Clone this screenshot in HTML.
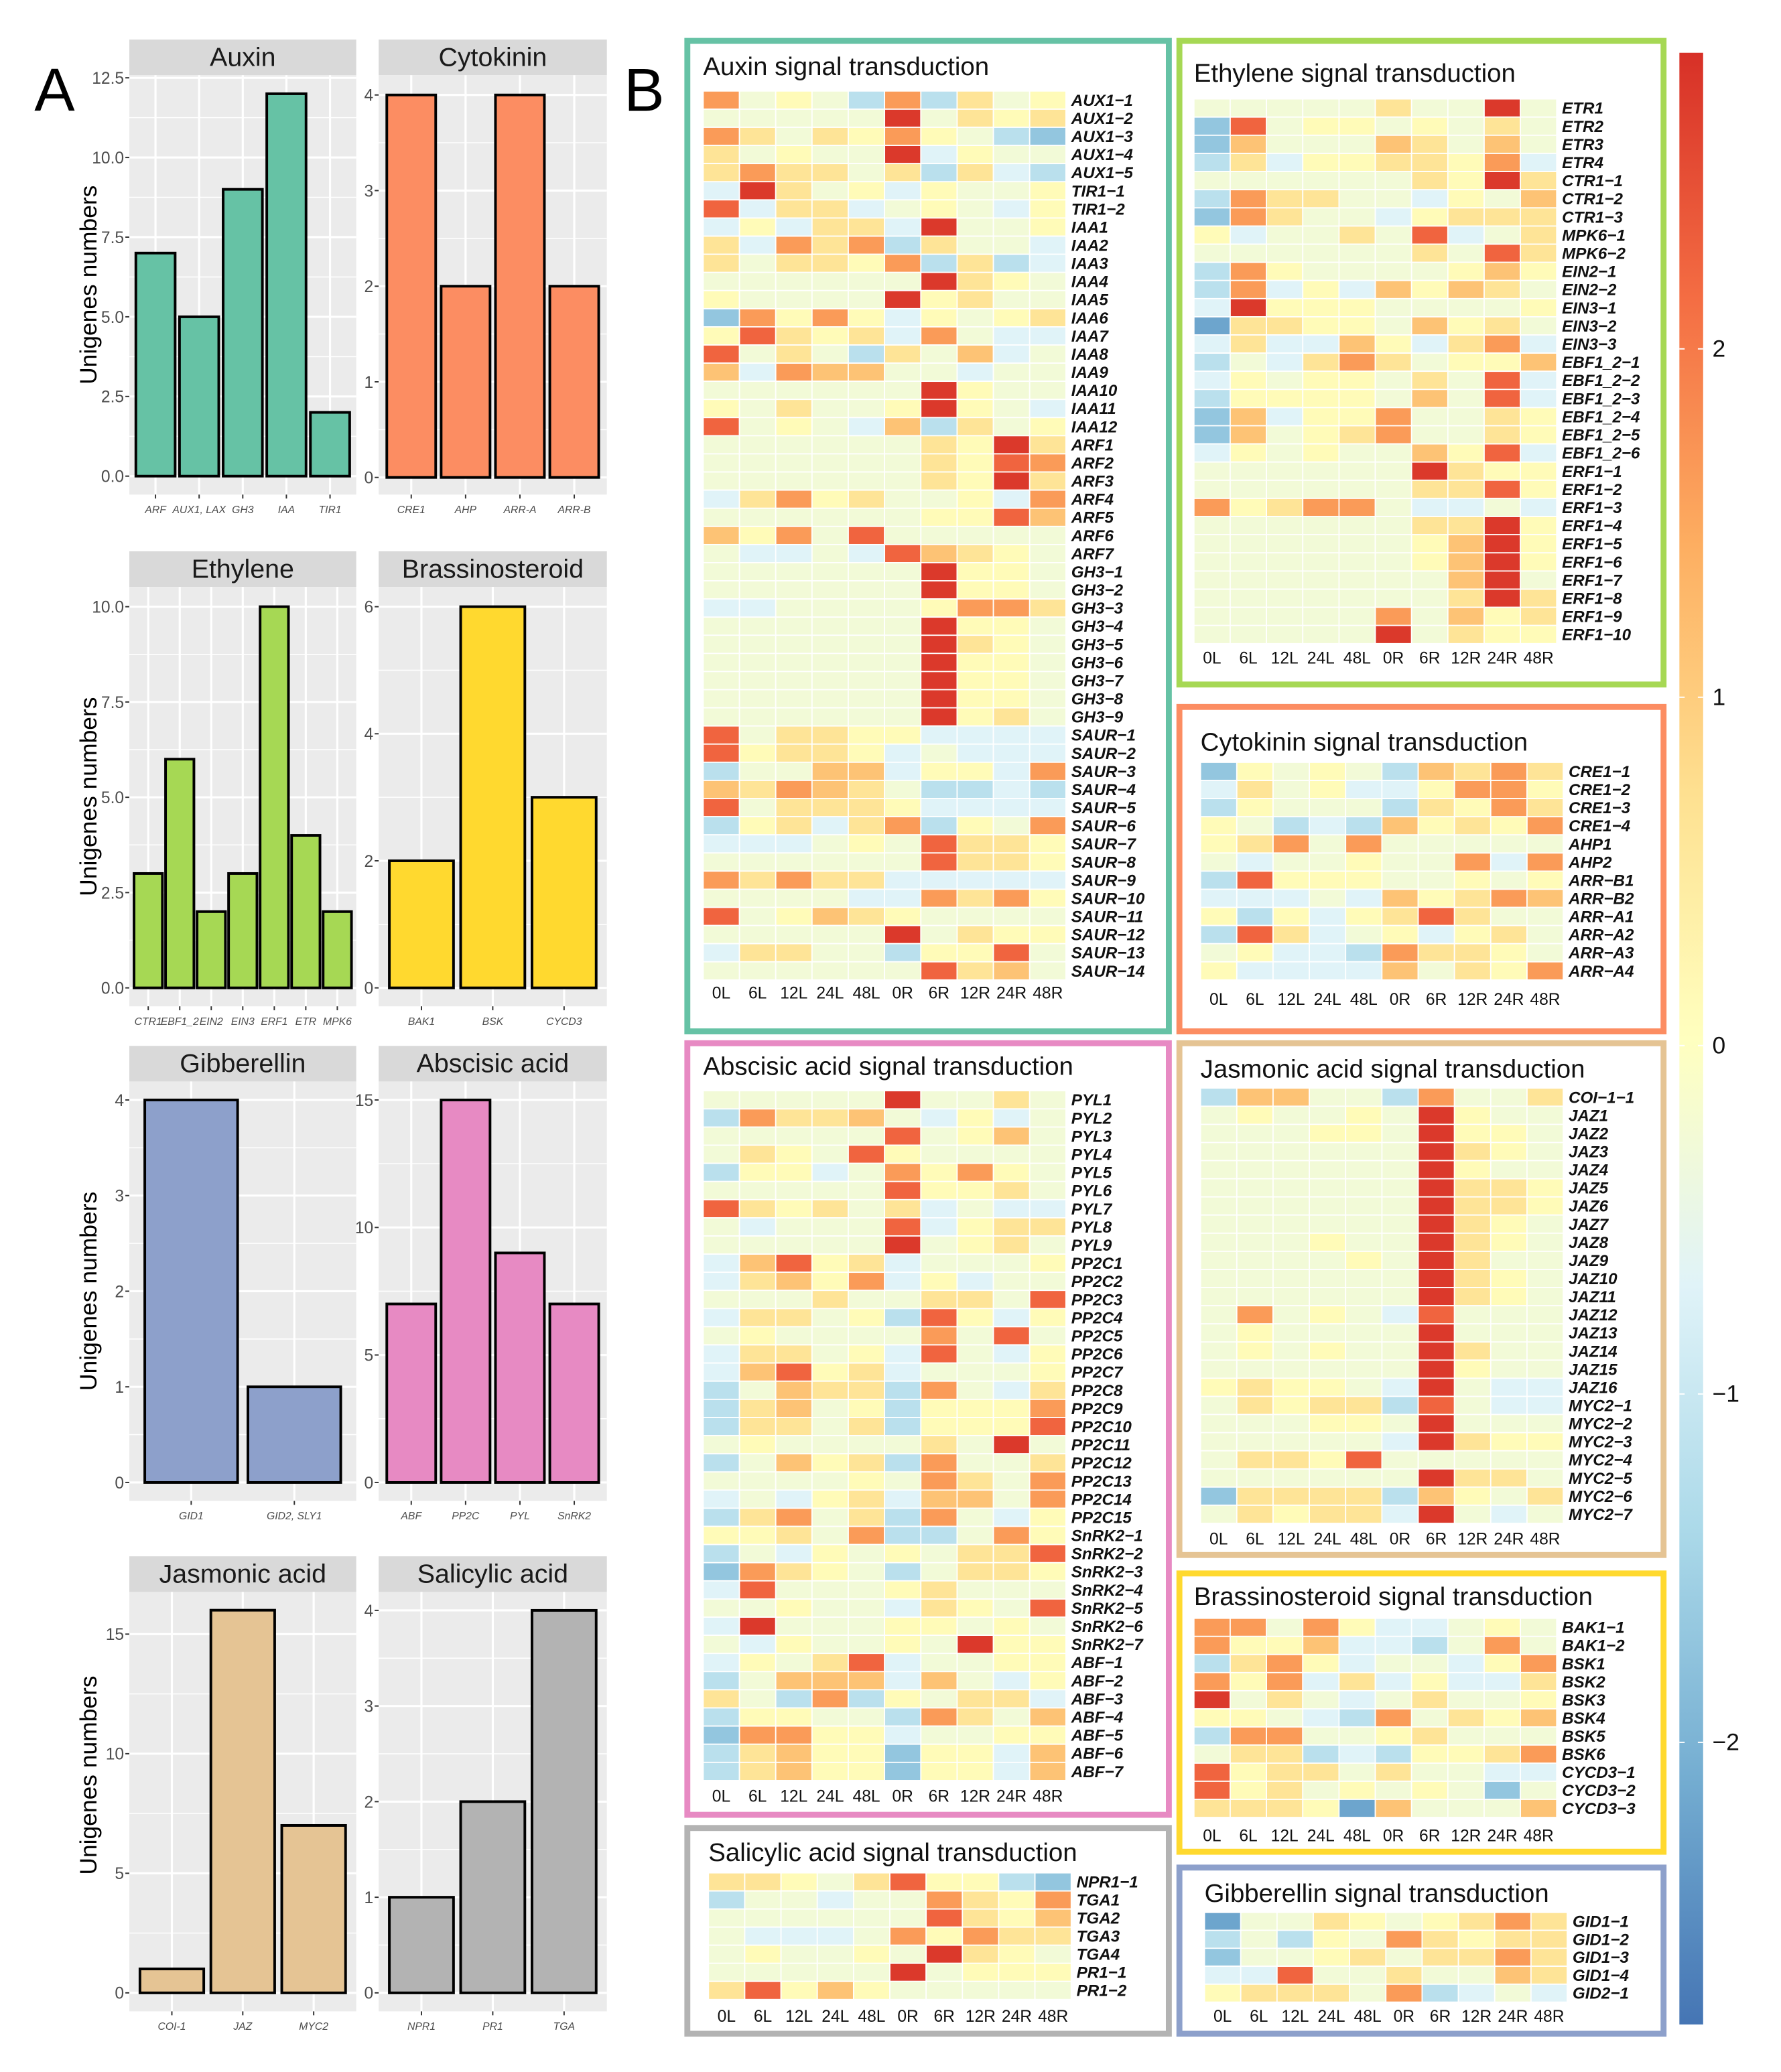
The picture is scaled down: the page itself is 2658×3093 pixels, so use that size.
<!DOCTYPE html>
<html><head><meta charset="utf-8">
<style>
html,body{margin:0;padding:0;background:#fff;}
svg{display:block;}
text{font-family:"Liberation Sans",sans-serif;}
</style></head>
<body>
<svg id="fig" xmlns="http://www.w3.org/2000/svg" width="2658" height="3093" viewBox="0 0 1350 1571">
<defs>
<linearGradient id="cbar" x1="0" y1="1" x2="0" y2="0">
<stop offset="0" stop-color="#4575b4"/>
<stop offset="0.125" stop-color="#74add1"/>
<stop offset="0.25" stop-color="#abd9e9"/>
<stop offset="0.375" stop-color="#e0f3f8"/>
<stop offset="0.5" stop-color="#ffffbf"/>
<stop offset="0.625" stop-color="#fee090"/>
<stop offset="0.75" stop-color="#fdae61"/>
<stop offset="0.875" stop-color="#f46d43"/>
<stop offset="1" stop-color="#d73027"/>
</linearGradient>
</defs>
</svg>
<script>
// ---------- Bar chart data ----------
const auxinCats=["ARF","AUX1, LAX","GH3","IAA","TIR1"];
const auxinCounts=[7,5,9,12,2];
const auxinTicks=[0,2.5,5,7.5,10,12.5];
const cytoCats=["CRE1","AHP","ARR-A","ARR-B"];
const cytoCounts=[4,2,4,2];
const cytoTicks=[0,1,2,3,4];
const ethCats=["CTR1","EBF1_2","EIN2","EIN3","ERF1","ETR","MPK6"];
const ethCounts=[3,6,2,3,10,4,2];
const ethTicks=[0,2.5,5,7.5,10];
const brCats=["BAK1","BSK","CYCD3"];
const brCounts=[2,6,3];
const brTicks=[0,2,4,6];
const gaCats=["GID1","GID2, SLY1"];
const gaCounts=[4,1];
const gaTicks=[0,1,2,3,4];
const abaCats=["ABF","PP2C","PYL","SnRK2"];
const abaCounts=[7,15,9,7];
const abaTicks=[0,5,10,15];
const jaCats=["COI-1","JAZ","MYC2"];
const jaCounts=[1,16,7];
const jaTicks=[0,5,10,15];
const saCats=["NPR1","PR1","TGA"];
const saCounts=[1,2,4];
const saTicks=[0,1,2,3,4];

// ---------- Heatmap data ----------
const timeCols=["0L","6L","12L","24L","48L","0R","6R","12R","24R","48R"];
const levelCodes={A:-2.6,B:-2.2,C:-1.7,D:-1.2,E:-0.7,F:-0.3,G:0.1,H:0.6,I:1.1,J:1.6,K:2.2,L:2.7};
const colorbarTicks=[2,1,0,-1,-2];

const auxinGenes=["AUX1−1","AUX1−2","AUX1−3","AUX1−4","AUX1−5","TIR1−1","TIR1−2","IAA1","IAA2","IAA3","IAA4","IAA5","IAA6","IAA7","IAA8","IAA9","IAA10","IAA11","IAA12","ARF1","ARF2","ARF3","ARF4","ARF5","ARF6","ARF7","GH3−1","GH3−2","GH3−3","GH3−4","GH3−5","GH3−6","GH3−7","GH3−8","GH3−9","SAUR−1","SAUR−2","SAUR−3","SAUR−4","SAUR−5","SAUR−6","SAUR−7","SAUR−8","SAUR−9","SAUR−10","SAUR−11","SAUR−12","SAUR−13","SAUR−14"];
const auxinRows=["JFGFDJDHFG","FFFFFLFHGH","JHFHGJGFDC","HFGFFLEGFF","HJHHFHDHED","ELHFGEGFFG","KEHHEFGFEG","EGEHHELFFG","HEJHJDHFFE","HFHHGJDHDE","FFFFFFLHGF","GFFFFLGHFF","CJGJGEGFGH","GKHGHEJFEE","KFHFDHFIEF","IEJIIFFEFF","FFFFFFLGFF","GFHFFGLGFE","KFGFEIDHFG","FFFFFFHGLH","FFFFFFHGKJ","FFFFFFHGLH","EHJGHFFGEJ","FFFFFFGGKI","IGJFKFFFFF","FEEFEKIHGF","FFFFFFLGGF","FFFFFFLGGF","EEFFFFGJJH","FFFFFFLGGF","FFFFFFLHGF","FFFFFFLGGF","FFFFFFLGGF","FFFFFFLGGF","FFFFFFLGHF","KFHHGGEEEE","KGHHGEFEEE","DFFIIEGGEJ","IHJIHFDDED","KFHHHGEEEE","DGHEHJDGFJ","EEEFGFKHHG","FFFFFFKHHG","JHJHHEEEEE","FFFFEEJHJG","KFGIHGFFFF","FFFFFLFHGG","EHHFFDGGKF","FFFFFFKHIF"];

const ethGenes=["ETR1","ETR2","ETR3","ETR4","CTR1−1","CTR1−2","CTR1−3","MPK6−1","MPK6−2","EIN2−1","EIN2−2","EIN3−1","EIN3−2","EIN3−3","EBF1_2−1","EBF1_2−2","EBF1_2−3","EBF1_2−4","EBF1_2−5","EBF1_2−6","ERF1−1","ERF1−2","ERF1−3","ERF1−4","ERF1−5","ERF1−6","ERF1−7","ERF1−8","ERF1−9","ERF1−10"];
const ethRows=["FFFFFHFFLF","CKFGGFGFHF","CIFFFIHFIF","DHEGGHHGJE","FFFFFFHGLH","DJHHFFEGFI","CJHFFEGHHH","GEFFHFKEFH","FFFFFFHFKH","DJGFFFFGIG","DJEGEIGIHF","ELGGGFFFFG","BHHGGFIGHF","EHEEIGEHJE","DFEHJHFGGI","EGFGGFHFKE","DGGGGFIFKE","CIEGGJFFHG","CIFGHJFFHG","EGFGFFIGKE","FFFFFFLHGG","FFFFFFHHKG","JGHJJFEEFE","FFFFFFHHLG","FFFFFFGILG","FFFFFFGILG","FFFFFFFILF","FFFFFFFHLH","FFFFFJFIGH","FFFFFLFHGG"];

const cytoGenes=["CRE1−1","CRE1−2","CRE1−3","CRE1−4","AHP1","AHP2","ARR−B1","ARR−B2","ARR−A1","ARR−A2","ARR−A3","ARR−A4"];
const cytoRows=["CGFGFDIHJH","EHFGEEGJJG","DGFFFDHGJH","GFDEDIGHGJ","GHJFJFFFFF","FEFFGFFJEJ","DKGGGFFGFG","EEEFEIGHJI","GDGEGHKHFF","DKHEFGEGHF","FGEEDJHHGF","GEEEEIFHGJ"];

const abaGenes=["PYL1","PYL2","PYL3","PYL4","PYL5","PYL6","PYL7","PYL8","PYL9","PP2C1","PP2C2","PP2C3","PP2C4","PP2C5","PP2C6","PP2C7","PP2C8","PP2C9","PP2C10","PP2C11","PP2C12","PP2C13","PP2C14","PP2C15","SnRK2−1","SnRK2−2","SnRK2−3","SnRK2−4","SnRK2−5","SnRK2−6","SnRK2−7","ABF−1","ABF−2","ABF−3","ABF−4","ABF−5","ABF−6","ABF−7"];
const abaRows=["FFFFFLFFHF","DJHHIFEGEF","FFFFFKFGIF","FHGFKGFFFF","DGGEFJGJGF","FFFFFKGGHF","KHGHFHEFEE","FEFFFKEGHH","FFFFFLFGHF","EIKGHEFFFG","EHIGJEGEFF","FFFHFFHHFK","EHHFGDKGEG","FGFFFFJFKF","EHHFGEKFEG","EIKGHEFFFG","DFIHHDJFEH","DHIFGDGGGJ","DHHFHDGGGK","FGFFFFHFLF","DFIGHDJFFH","FFFFGFJHFJ","EFEGHEIIFJ","DHJFHDJFEG","GGHFJDDFJG","DFEGFGFHHK","CJHGFDFHHG","EKFFFGHFFF","FFGFFEHGFK","ELFFFGGFGF","FEGFFGFLGG","EGFHKEFFGG","DFIIIEIFEG","HFDJDGFHHE","DGGFFDJHFI","CJJGGEFFGG","DHIGGCGGEI","DHIGGCGGEI"];

const jaGenes=["COI−1−1","JAZ1","JAZ2","JAZ3","JAZ4","JAZ5","JAZ6","JAZ7","JAZ8","JAZ9","JAZ10","JAZ11","JAZ12","JAZ13","JAZ14","JAZ15","JAZ16","MYC2−1","MYC2−2","MYC2−3","MYC2−4","MYC2−5","MYC2−6","MYC2−7"];
const jaRows=["DIIFFDJFFH","FGFFGFLGFF","FFFGGFLGGF","FFFFFFLHGF","FFFFFFLGFF","FFFFFFLHHG","FFFFFFLHHG","FFFFFFLHGF","FFFGFFLHGF","FFFFGFLHFF","FFFFFFLHGF","FFFFFFLHGF","FJFGFEKFFF","FGFFFFLFFF","FGFGFFLHFF","FFFFFFLGFF","GHGGFELFEE","FHGHHDKFEE","FFFGGFLFFF","FFFFFELHGG","FHHGKFFFFF","FFFFFFLHHF","CHHHHDIGFH","FHGHHELFEF"];

const brGenes=["BAK1−1","BAK1−2","BSK1","BSK2","BSK3","BSK4","BSK5","BSK6","CYCD3−1","CYCD3−2","CYCD3−3"];
const brRows=["JJFJGEEFGF","JGGIEEDFJF","DHJGEFFEGJ","JGJEHEGEEH","LFHFEFHFFG","GGFEDJFHGI","DJJFFGHFFF","FHHDEDGGHJ","KGHHFHFFEE","KGHFGFGFCF","HHHGBIFFFI"];

const saGenes=["NPR1−1","TGA1","TGA2","TGA3","TGA4","PR1−1","PR1−2"];
const saRows=["HHGFHKGGDC","DFFEFFJHGJ","FFFFFFKHGI","FEEEFJGJHH","FGFFGFLHGF","FFFFFLFGGG","HKGIGFFFFF"];

const gaGenes=["GID1−1","GID1−2","GID1−3","GID1−4","GID2−1"];
const gaRows=["BFFHGFGHJH","DFDGFJHGHH","CFFGHFHHJH","EEKFFHFFIH","GHHHFJDEFE"];

// ---------- helpers ----------
const NS="http://www.w3.org/2000/svg";
const svg=document.getElementById('fig');
function mk(tag,attrs,parent){const e=document.createElementNS(NS,tag);for(const k in attrs)e.setAttribute(k,attrs[k]);(parent||svg).appendChild(e);return e;}
function txt(s,attrs,parent){const e=mk('text',attrs,parent);e.textContent=s;return e;}

const stops=[[-2.8,[69,117,180]],[-2.1,[116,173,209]],[-1.4,[171,217,233]],[-0.7,[224,243,248]],[0,[255,255,191]],[0.7,[254,224,144]],[1.4,[253,174,97]],[2.1,[244,109,67]],[2.8,[215,48,39]]];
function colorOf(v){
  if(v<=stops[0][0])return 'rgb('+stops[0][1].join(',')+')';
  for(let i=1;i<stops.length;i++){
    if(v<=stops[i][0]){const a=stops[i-1],b=stops[i];const t=(v-a[0])/(b[0]-a[0]);
      const c=a[1].map((x,j)=>Math.round(x+(b[1][j]-x)*t));return 'rgb('+c.join(',')+')';}
  }
  return 'rgb('+stops[stops.length-1][1].join(',')+')';
}

// ---------- Panel labels ----------
const la=txt('A',{x:26,y:84,'font-size':46,fill:'#000'});


const lb=txt('B',{x:473,y:84,'font-size':46,fill:'#000'});



// ---------- Bar charts ----------
function barChart(o){
  const g=mk('g',{});
  
  
  const W=o.x1-o.x0;
  // strip
  const st=mk('rect',{x:o.x0,y:o.sy,width:W,height:27,fill:'#d9d9d9'},g);
  
  
  const stt=txt(o.title,{x:(o.x0+o.x1)/2,y:o.sy+20,'font-size':20,'text-anchor':'middle',fill:'#1a1a1a'},g);
  
  
  const py0=o.sy+27,py1=py0+318;
  const bg=mk('rect',{x:o.x0,y:py0,width:W,height:py1-py0,fill:'#ebebeb'},g);
  
  
  const tmax=o.ticks[o.ticks.length-1];
  const ys=v=>o.zeroY-(v)*(o.zeroY-o.topY)/tmax;
  const n=o.cats.length;
  const xs=p=>o.x0+(p-0.4)/(n+0.2)*W;
  // minor grid
  const step=o.ticks[1]-o.ticks[0];
  for(let v=-step/2;v<=tmax+step;v+=step){
    const y=ys(v); if(y<py0||y>py1)continue;
    const l=mk('line',{x1:o.x0,x2:o.x1,y1:y,y2:y,stroke:'#fff','stroke-width':0.8},g);
    
    
  }
  o.ticks.forEach(v=>{
    const y=ys(v);
    const l=mk('line',{x1:o.x0,x2:o.x1,y1:y,y2:y,stroke:'#fff','stroke-width':1.6},g);
    
    
    const tk=mk('line',{x1:o.x0-3,x2:o.x0,y1:y,y2:y,stroke:'#333','stroke-width':1},g);
    
    
    const tl=txt(String(v%1===0&&o.decimal?v.toFixed(1):v),{x:o.x0-4,y:y+4.5,'font-size':12.5,'text-anchor':'end',fill:'#4d4d4d'},g);
    
    
  });
  o.cats.forEach((c,i)=>{
    const cx=xs(i+1);
    const l=mk('line',{x1:cx,x2:cx,y1:py0,y2:py1,stroke:'#fff','stroke-width':1.6},g);
    
    
  });
  o.cats.forEach((c,i)=>{
    const cx=xs(i+1),hw=0.45*W/(n+0.2);
    const v=o.vals[i];
    const b=mk('rect',{x:cx-hw,y:ys(v),width:2*hw,height:o.zeroY-ys(v),fill:o.color,stroke:'#000','stroke-width':2},g);
    
    
    const tk=mk('line',{x1:cx,x2:cx,y1:py1,y2:py1+3,stroke:'#333','stroke-width':1},g);
    
    
    const xl=txt(c,{x:cx,y:py1+14,'font-size':8,'font-style':'italic','text-anchor':'middle',fill:'#4d4d4d'},g);
    
    
  });
}
function yTitle(cy,name){
  const t=txt('Unigenes numbers',{x:0,y:0,'font-size':18,'text-anchor':'middle',fill:'#000',transform:'translate(73,'+cy+') rotate(-90)'});
  
  
}
const L=[98,270],R=[287,460];
barChart({id:'auxin',title:'Auxin',x0:L[0],x1:L[1],sy:30,zeroY:361,topY:59,cats:auxinCats,vals:auxinCounts,ticks:auxinTicks,color:'#66c2a5',decimal:true});
barChart({id:'cytokinin',title:'Cytokinin',x0:R[0],x1:R[1],sy:30,zeroY:362,topY:72,cats:cytoCats,vals:cytoCounts,ticks:cytoTicks,color:'#fc8d62'});
barChart({id:'ethylene',title:'Ethylene',x0:L[0],x1:L[1],sy:418,zeroY:749,topY:460,cats:ethCats,vals:ethCounts,ticks:ethTicks,color:'#a6d854',decimal:true});
barChart({id:'brassinosteroid',title:'Brassinosteroid',x0:R[0],x1:R[1],sy:418,zeroY:749,topY:460,cats:brCats,vals:brCounts,ticks:brTicks,color:'#ffd92f'});
barChart({id:'gibberellin',title:'Gibberellin',x0:L[0],x1:L[1],sy:793,zeroY:1124,topY:834,cats:gaCats,vals:gaCounts,ticks:gaTicks,color:'#8da0cb'});
barChart({id:'abscisic',title:'Abscisic acid',x0:R[0],x1:R[1],sy:793,zeroY:1124,topY:834,cats:abaCats,vals:abaCounts,ticks:abaTicks,color:'#e78ac3'});
barChart({id:'jasmonic',title:'Jasmonic acid',x0:L[0],x1:L[1],sy:1180,zeroY:1511,topY:1239,cats:jaCats,vals:jaCounts,ticks:jaTicks,color:'#e5c494'});
barChart({id:'salicylic',title:'Salicylic acid',x0:R[0],x1:R[1],sy:1180,zeroY:1511,topY:1221,cats:saCats,vals:saCounts,ticks:saTicks,color:'#b3b3b3'});
yTitle(216,'y-axis-title-row1');
yTitle(604,'y-axis-title-row2');
yTitle(979,'y-axis-title-row3');
yTitle(1346,'y-axis-title-row4');

// ---------- Heatmaps ----------
function heatmap(o){
  const g=mk('g',{});
  
  
  const bx=mk('rect',{x:o.box[0]+2,y:o.box[1]+2,width:o.box[2]-o.box[0]-4,height:o.box[3]-o.box[1]-4,fill:'#fff',stroke:o.color,'stroke-width':4.5},g);
  
  
  const t=txt(o.title,{x:o.tx,y:o.ty,'font-size':19.5,fill:'#111'},g);
  
  
  const nr=o.rows.length,cw=(o.cx1-o.cx0)/10,rh=(o.cy1-o.cy0)/nr;
  o.rows.forEach((row,r)=>{
    for(let c=0;c<10;c++){
      const v=levelCodes[row[c]];
      const cell=mk('rect',{x:o.cx0+c*cw,y:o.cy0+r*rh,width:cw,height:rh,fill:colorOf(v),stroke:'#fff','stroke-width':0.9},g);
      
      
    }
    const gl=txt(o.genes[r],{x:o.cx1+4,y:o.cy0+(r+0.5)*rh+4.3,'font-size':12.3,'font-weight':'bold','font-style':'italic',fill:'#111'},g);
    
    
  });
  timeCols.forEach((c,i)=>{
    const cl=txt(c,{x:o.cx0+(i+0.5)*cw,y:o.coly,'font-size':12.5,'text-anchor':'middle',fill:'#111'},g);
    
    
  });
}
heatmap({id:'auxin',title:'Auxin signal transduction',color:'#66c2a5',box:[519,29,888,784],tx:533,ty:57,cx0:533,cx1:808,cy0:69,cy1:743,coly:757,genes:auxinGenes,rows:auxinRows});
heatmap({id:'ethylene',title:'Ethylene signal transduction',color:'#a6d854',box:[892,29,1263,521],tx:905,ty:62,cx0:905,cx1:1180,cy0:75,cy1:488,coly:503,genes:ethGenes,rows:ethRows});
heatmap({id:'cytokinin',title:'Cytokinin signal transduction',color:'#fc8d62',box:[892,534,1263,784],tx:910,ty:569,cx0:910,cx1:1185,cy0:578,cy1:743,coly:762,genes:cytoGenes,rows:cytoRows});
heatmap({id:'abscisic',title:'Abscisic acid signal transduction',color:'#e78ac3',box:[519,789,888,1378],tx:533,ty:815,cx0:533,cx1:808,cy0:827,cy1:1350,coly:1366,genes:abaGenes,rows:abaRows});
heatmap({id:'jasmonic',title:'Jasmonic acid signal transduction',color:'#e5c494',box:[892,789,1263,1181],tx:910,ty:817,cx0:910,cx1:1185,cy0:825,cy1:1155,coly:1171,genes:jaGenes,rows:jaRows});
heatmap({id:'brassinosteroid',title:'Brassinosteroid signal transduction',color:'#ffd92f',box:[892,1191,1263,1406],tx:905,ty:1217,cx0:905,cx1:1180,cy0:1227,cy1:1378,coly:1396,genes:brGenes,rows:brRows});
heatmap({id:'salicylic',title:'Salicylic acid signal transduction',color:'#b3b3b3',box:[519,1384,888,1544],tx:537,ty:1411,cx0:537,cx1:812,cy0:1420,cy1:1516,coly:1533,genes:saGenes,rows:saRows});
heatmap({id:'gibberellin',title:'Gibberellin signal transduction',color:'#8da0cb',box:[892,1414,1263,1544],tx:913,ty:1442,cx0:913,cx1:1188,cy0:1450,cy1:1518,coly:1533,genes:gaGenes,rows:gaRows});

// ---------- Colour bar ----------
const cbTop=40,cbBot=1535,cbMax=2.85,cbMin=-2.81;
const cy=v=>cbTop+(cbMax-v)/(cbMax-cbMin)*(cbBot-cbTop);
const cb=mk('rect',{x:1273,y:cbTop,width:18,height:cbBot-cbTop,fill:'url(#cbar)'});


colorbarTicks.forEach(v=>{
  const y=cy(v);
  const t1=mk('line',{x1:1273,x2:1277,y1:y,y2:y,stroke:'#fff','stroke-width':1});
  
  
  const t2=mk('line',{x1:1287,x2:1291,y1:y,y2:y,stroke:'#fff','stroke-width':1});
  
  
  const lab=txt(v<0?'\u2212'+Math.abs(v):String(v),{x:1298,y:y+6,'font-size':18,fill:'#111'});
  
  
});
</script>
</body></html>
